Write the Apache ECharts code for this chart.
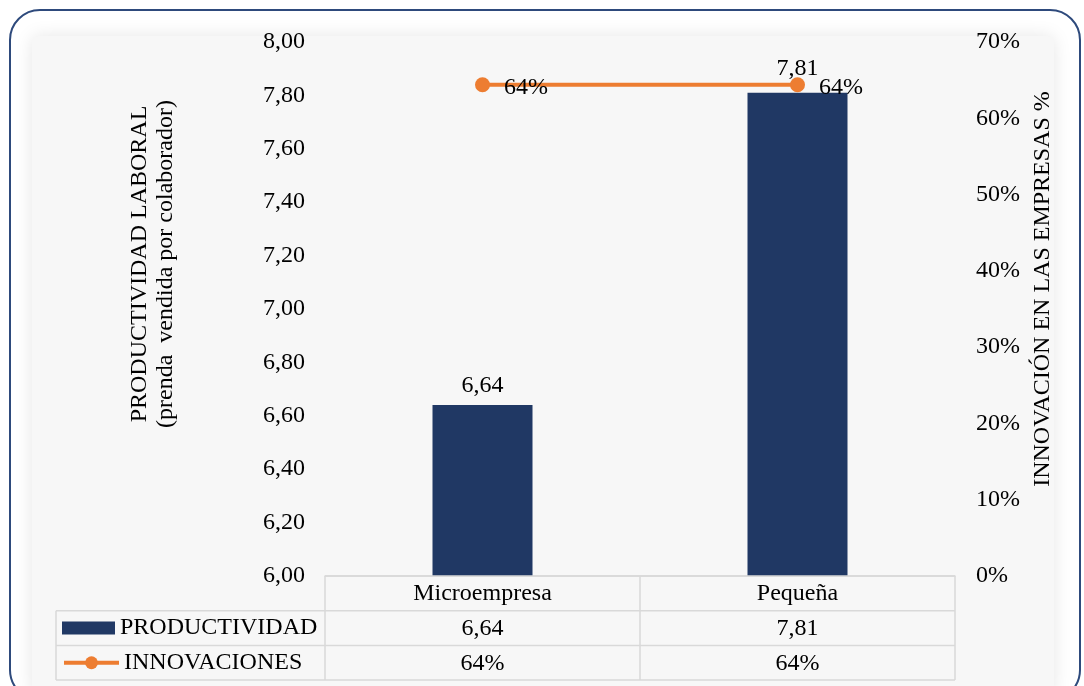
<!DOCTYPE html>
<html>
<head>
<meta charset="utf-8">
<script src="https://cdn.jsdelivr.net/npm/echarts@6/dist/echarts.min.js"></script>
<style>html,body{margin:0;padding:0;background:#fff;}#c{width:1084px;height:686px;}</style>
</head>
<body>
<div id="c"></div>
<script>
var categories = ['Microempresa', 'Pequeña'];
var productividad = [6.64, 7.81];
var innovaciones = [0.644, 0.644];
var seriesNames = ['PRODUCTIVIDAD', 'INNOVACIONES'];
var leftTitle = ['PRODUCTIVIDAD LABORAL', '(prenda  vendida por colaborador)'];
var rightTitle = 'INNOVACIÓN EN LAS EMPRESAS %';

var FONT = '"Liberation Serif", "Times New Roman", serif';
var FS = 24;
var BAR = '#203864';
var ORANGE = '#ed7d31';
var GRID = '#d9d9d9';
var fmtNum = function (v) { return v.toFixed(2).replace('.', ','); };
var fmtPct = function (v) { return Math.round(v * 100) + '%'; };

var chart = echarts.init(document.getElementById('c'));

var gL = 325, gR = 955, gT = 42, gB = 576;
var rowH = 34.7;
var colW = (gR - gL) / categories.length;
var tableLeft = 56;

var graphics = [];
graphics.push({type: 'rect', z: -20, shape: {x: 10, y: 10, width: 1070, height: 690, r: 30},
  style: {fill: '#ffffff', stroke: '#2e4a7c', lineWidth: 2}, silent: true});
graphics.push({type: 'rect', z: -19, shape: {x: 32, y: 36, width: 1022, height: 660, r: 6},
  style: {fill: '#f7f7f7', shadowBlur: 18, shadowColor: 'rgba(0,0,0,0.10)'}, silent: true});
graphics.push({type: 'text', z: 10, x: 153, y: 264, rotation: Math.PI / 2,
  style: {text: leftTitle.join('\n'), font: FS + 'px ' + FONT, fill: '#000', align: 'center', verticalAlign: 'middle', lineHeight: 26}});
graphics.push({type: 'text', z: 10, x: 1043, y: 289, rotation: Math.PI / 2,
  style: {text: rightTitle, font: FS + 'px ' + FONT, fill: '#000', align: 'center', verticalAlign: 'middle'}});
function hline(x1, x2, y) { graphics.push({type: 'line', z: 5, shape: {x1: x1, y1: y, x2: x2, y2: y}, style: {stroke: GRID, lineWidth: 1.5}, silent: true}); }
function vline(x, y1, y2) { graphics.push({type: 'line', z: 5, shape: {x1: x, y1: y1, x2: x, y2: y2}, style: {stroke: GRID, lineWidth: 1.5}, silent: true}); }
var rowsY = [gB, gB + rowH, gB + 2 * rowH, gB + 3 * rowH];
hline(gL, gR, rowsY[0]);
hline(tableLeft, gR, rowsY[1]);
hline(tableLeft, gR, rowsY[2]);
hline(tableLeft, gR, rowsY[3]);
vline(tableLeft, rowsY[1], rowsY[3]);
for (var i = 0; i <= categories.length; i++) vline(gL + i * colW, rowsY[0], rowsY[3]);
var tableRows = [productividad.map(fmtNum), innovaciones.map(fmtPct)];
tableRows.forEach(function (row, r) {
  row.forEach(function (txt, c) {
    graphics.push({type: 'text', z: 10, x: gL + (c + 0.5) * colW, y: rowsY[r + 1] + rowH / 2 + 1,
      style: {text: txt, font: FS + 'px ' + FONT, fill: '#000', align: 'center', verticalAlign: 'middle'}});
  });
});

// bar data: the taller bar's label is lifted clear of the line, as in the source
var barData = productividad.map(function (v, i) {
  return i === productividad.length - 1 ? {value: v, label: {offset: [0, -5]}} : v;
});

var option = {
  animation: false,
  textStyle: {fontFamily: FONT},
  grid: {left: gL, right: 1084 - gR, top: gT, bottom: 686 - gB, containLabel: false},
  legend: [
    {data: [{name: seriesNames[0], icon: 'rect'}], left: 62, top: rowsY[1] + rowH / 2 - 12, padding: 0, itemWidth: 53, itemHeight: 13,
      textStyle: {fontSize: FS, fontFamily: FONT, color: '#000', padding: [2, 0, 0, 0]}},
    {data: [seriesNames[1]], left: 62, top: rowsY[2] + rowH / 2 - 12, padding: 0, itemWidth: 55, itemHeight: 16,
      lineStyle: {width: 4, color: ORANGE},
      textStyle: {fontSize: FS, fontFamily: FONT, color: '#000', padding: [2, 0, 0, 0]}}
  ],
  xAxis: {
    type: 'category', data: categories,
    axisLine: {show: true, lineStyle: {color: GRID, width: 1.5}},
    axisTick: {show: false},
    axisLabel: {fontSize: FS, fontFamily: FONT, color: '#000', margin: 6}
  },
  yAxis: [
    {type: 'value', min: 6, max: 8, interval: 0.2,
      axisLine: {show: false}, axisTick: {show: false}, splitLine: {show: false},
      axisLabel: {fontSize: FS, fontFamily: FONT, color: '#000', margin: 20, formatter: fmtNum}},
    {type: 'value', min: 0, max: 0.7, interval: 0.1, position: 'right',
      axisLine: {show: false}, axisTick: {show: false}, splitLine: {show: false},
      axisLabel: {fontSize: FS, fontFamily: FONT, color: '#000', margin: 21, formatter: fmtPct}}
  ],
  series: [
    {name: seriesNames[0], type: 'bar', data: barData, yAxisIndex: 0, barWidth: 100,
      itemStyle: {color: BAR},
      label: {show: true, position: 'top', distance: 7, fontSize: FS, fontFamily: FONT, color: '#000', formatter: function (p) { return fmtNum(p.value); }}},
    {name: seriesNames[1], type: 'line', data: innovaciones, yAxisIndex: 1,
      symbol: 'circle', symbolSize: 15,
      lineStyle: {color: ORANGE, width: 4}, itemStyle: {color: ORANGE},
      label: {show: true, position: 'right', distance: 14, offset: [0, 3], fontSize: FS, fontFamily: FONT, color: '#000', formatter: function (p) { return fmtPct(p.value); }}}
  ],
  graphic: graphics
};
chart.setOption(option);
</script>
</body>
</html>
